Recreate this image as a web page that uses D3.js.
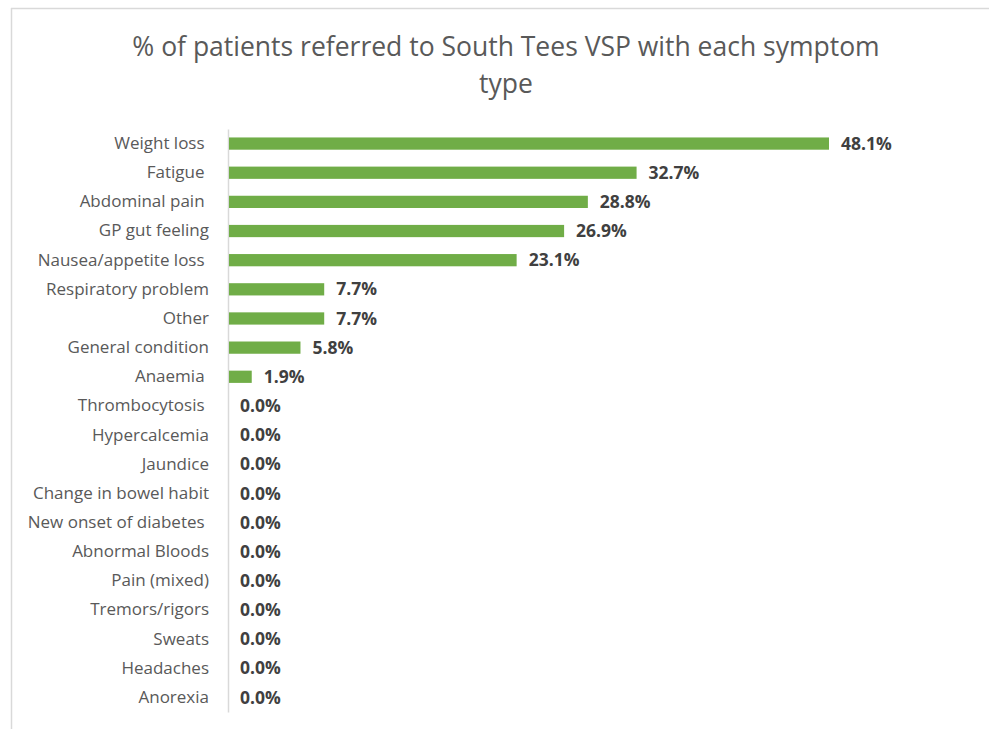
<!DOCTYPE html>
<html>
<head>
<meta charset="utf-8">
<script src="https://cdn.jsdelivr.net/npm/d3@7"></script>
<style>
  body { margin: 0; background: #fff; }
  text { font-family: "Open Sans", Lato, sans-serif; white-space: pre; }
</style>
</head>
<body>
<svg id="chart" width="989" height="729"></svg>
<script>
var categories = ["Weight loss ", "Fatigue ", "Abdominal pain ", "GP gut feeling", "Nausea/appetite loss ",
    "Respiratory problem", "Other", "General condition", "Anaemia ", "Thrombocytosis ",
    "Hypercalcemia", "Jaundice", "Change in bowel habit", "New onset of diabetes ", "Abnormal Bloods",
    "Pain (mixed)", "Tremors/rigors", "Sweats", "Headaches", "Anorexia"];
var values = [48.1, 32.7, 28.8, 26.9, 23.1, 7.7, 7.7, 5.8, 1.9, 0, 0, 0, 0, 0, 0, 0, 0, 0, 0, 0];
var titleLines = ["% of patients referred to South Tees VSP with each symptom", "type"];

var svg = d3.select("#chart"),
    width = +svg.attr("width"),
    height = +svg.attr("height");

var data = categories.map(function(c, i) { return {name: c, value: values[i]}; });

// chart frame (cropped: only top and left edges show)
svg.append("line")
    .attr("x1", 11).attr("x2", width).attr("y1", 8.5).attr("y2", 8.5)
    .attr("stroke", "#d9d9d9").attr("stroke-width", 1.5);
svg.append("line")
    .attr("x1", 11.5).attr("x2", 11.5).attr("y1", 8).attr("y2", height)
    .attr("stroke", "#d9d9d9").attr("stroke-width", 1.5);

var title = svg.append("text")
    .attr("text-anchor", "middle")
    .attr("fill", "#595959")
    .style("font-size", "26.5px");
title.selectAll("tspan")
    .data(titleLines)
    .enter().append("tspan")
      .attr("x", 506)
      .attr("y", function(d, i) { return 56 + i * 37; })
      .text(function(d) { return d; });

var x = d3.scaleLinear()
    .domain([0, 48.1])
    .range([228, 829]);

var y = d3.scaleBand()
    .domain(categories)
    .range([129, 712])
    .paddingInner(0.58)
    .paddingOuter(0.29);

var yAxis = svg.append("g")
    .attr("transform", "translate(" + x(0) + ",0)")
    .call(d3.axisLeft(y).tickSize(0).tickPadding(19));
yAxis.select(".domain")
    .attr("stroke", "#d9d9d9")
    .attr("stroke-width", 1.5);
yAxis.selectAll("text")
    .attr("fill", "#595959")
    .style("font-size", "17px")
    .style("font-family", "'Open Sans', sans-serif");

svg.append("g")
    .selectAll("rect")
    .data(data)
    .enter().append("rect")
      .attr("x", x(0) + 1)
      .attr("y", function(d) { return y(d.name); })
      .attr("width", function(d) { return Math.max(0, x(d.value) - x(0) - 1); })
      .attr("height", y.bandwidth())
      .attr("fill", "#70ad47");

svg.append("g")
    .selectAll("text")
    .data(data)
    .enter().append("text")
      .attr("x", function(d) { return x(d.value) + 12; })
      .attr("y", function(d) { return y(d.name) + y.bandwidth() / 2; })
      .attr("dy", ".35em")
      .attr("fill", "#404040")
      .style("font-size", "17.5px")
      .style("font-weight", "bold")
      .text(function(d) { return d.value.toFixed(1) + "%"; });
</script>
</body>
</html>
